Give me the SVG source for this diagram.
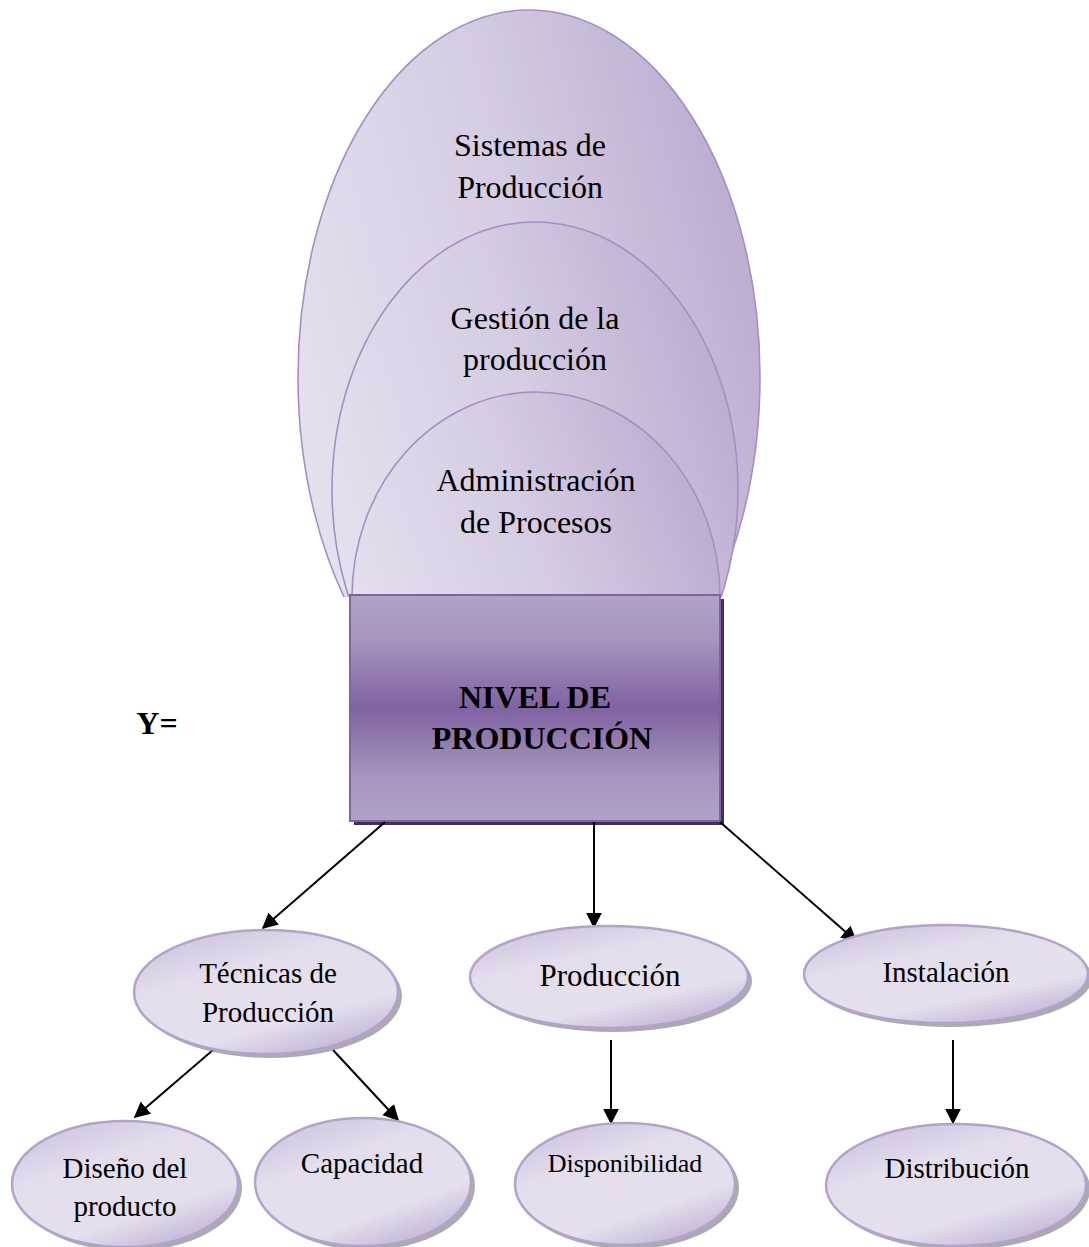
<svg xmlns="http://www.w3.org/2000/svg" width="1089" height="1247" viewBox="0 0 1089 1247">
  <style>
    .t { font-family: "Liberation Serif", "Times New Roman", serif; fill: #000; text-anchor: middle; }
    .b { font-weight: bold; }
    .arch { stroke: #a48fc3; stroke-width: 1.6; fill: url(#archFill); }
    .node { fill: url(#nodeFill); stroke: #b3a2cc; stroke-width: 2.5; }
    .shadow { fill: #8f8f8f; opacity: 0.75; }
    .conn { stroke: #000; stroke-width: 2; fill: none; marker-end: url(#arrow); }
  </style>
  <defs>
    <linearGradient id="archFill" x1="0" y1="0.6" x2="1" y2="0.2">
      <stop offset="0" stop-color="#e6e0ee"/>
      <stop offset="0.5" stop-color="#d6cce3"/>
      <stop offset="1" stop-color="#b9a9cf"/>
    </linearGradient>
    <linearGradient id="nodeFill" x1="0.1" y1="0" x2="0.7" y2="1">
      <stop offset="0" stop-color="#cbbfdc"/>
      <stop offset="0.35" stop-color="#e4ddec"/>
      <stop offset="0.75" stop-color="#e6e0ee"/>
      <stop offset="1" stop-color="#c4b6d7"/>
    </linearGradient>
    <linearGradient id="boxFill" x1="0" y1="0" x2="0" y2="1">
      <stop offset="0" stop-color="#b2a2c8"/>
      <stop offset="0.2" stop-color="#a795bf"/>
      <stop offset="0.5" stop-color="#7f62a1"/>
      <stop offset="0.8" stop-color="#a795bf"/>
      <stop offset="1" stop-color="#b2a2c8"/>
    </linearGradient>
    <clipPath id="aboveBox">
      <rect x="0" y="0" width="1089" height="597"/>
    </clipPath>
    <marker id="arrow" viewBox="0 0 10 10" refX="9" refY="5" markerWidth="8" markerHeight="8" markerUnits="strokeWidth" orient="auto">
      <path d="M0,0 L10,5 L0,10 z" fill="#000"/>
    </marker>
  </defs>

  <!-- nested production layers -->
  <g id="layers" clip-path="url(#aboveBox)">
    <g id="sistemas">
      <ellipse class="arch" cx="529" cy="377" rx="231" ry="367"/>
      <text class="t" x="530" y="156" font-size="32">Sistemas de</text>
      <text class="t" x="530" y="198" font-size="32">Producción</text>
    </g>
    <g id="gestion">
      <ellipse class="arch" cx="535" cy="490" rx="203" ry="268"/>
      <text class="t" x="535" y="329" font-size="32">Gestión de la</text>
      <text class="t" x="535" y="370" font-size="32">producción</text>
    </g>
    <g id="administracion">
      <ellipse class="arch" cx="536" cy="597" rx="184" ry="205"/>
      <text class="t" x="536" y="491" font-size="32">Administración</text>
      <text class="t" x="536" y="533" font-size="32">de Procesos</text>
    </g>
  </g>

  <!-- central box -->
  <g id="nivel">
    <rect x="354" y="599" width="370" height="226" fill="#3f3151"/>
    <rect x="350" y="595" width="370" height="226" fill="url(#boxFill)" stroke="#8064a2" stroke-width="2"/>
    <text class="t b" x="535" y="708" font-size="32">NIVEL DE</text>
    <text class="t b" x="542" y="749" font-size="32">PRODUCCIÓN</text>
  </g>

  <g id="y-label">
    <text class="t b" x="157" y="734" font-size="32">Y=</text>
  </g>

  <!-- connectors -->
  <g id="connectors">
    <line class="conn" x1="385" y1="822" x2="263" y2="928"/>
    <line class="conn" x1="594" y1="822" x2="594" y2="927"/>
    <line class="conn" x1="720" y1="822" x2="856" y2="941"/>
    <line class="conn" x1="213" y1="1050" x2="135" y2="1117"/>
    <line class="conn" x1="333" y1="1050" x2="398" y2="1120"/>
    <line class="conn" x1="611" y1="1040" x2="611" y2="1123"/>
    <line class="conn" x1="953" y1="1040" x2="953" y2="1123"/>
  </g>

  <!-- second level -->
  <g id="tecnicas">
    <ellipse class="shadow" cx="270" cy="996" rx="132" ry="62"/>
    <ellipse class="node" cx="266" cy="992" rx="132" ry="62"/>
    <text class="t" x="268" y="983" font-size="29">Técnicas de</text>
    <text class="t" x="268" y="1022" font-size="29">Producción</text>
  </g>
  <g id="produccion">
    <ellipse class="shadow" cx="613" cy="981" rx="139" ry="51"/>
    <ellipse class="node" cx="609" cy="977" rx="139" ry="51"/>
    <text class="t" x="610" y="986" font-size="31">Producción</text>
  </g>
  <g id="instalacion">
    <ellipse class="shadow" cx="950" cy="978" rx="142" ry="49"/>
    <ellipse class="node" cx="946" cy="974" rx="142" ry="49"/>
    <text class="t" x="946" y="982" font-size="29">Instalación</text>
  </g>

  <!-- third level -->
  <g id="diseno">
    <ellipse class="shadow" cx="129" cy="1188" rx="113" ry="63"/>
    <ellipse class="node" cx="125" cy="1184" rx="113" ry="63"/>
    <text class="t" x="125" y="1178" font-size="29">Diseño del</text>
    <text class="t" x="125" y="1216" font-size="29">producto</text>
  </g>
  <g id="capacidad">
    <ellipse class="shadow" cx="367" cy="1186" rx="108" ry="64"/>
    <ellipse class="node" cx="363" cy="1182" rx="108" ry="64"/>
    <text class="t" x="362" y="1173" font-size="29">Capacidad</text>
  </g>
  <g id="disponibilidad">
    <ellipse class="shadow" cx="629" cy="1188" rx="110" ry="61"/>
    <ellipse class="node" cx="625" cy="1184" rx="110" ry="61"/>
    <text class="t" x="625" y="1172" font-size="26">Disponibilidad</text>
  </g>
  <g id="distribucion">
    <ellipse class="shadow" cx="960" cy="1189" rx="130" ry="61"/>
    <ellipse class="node" cx="956" cy="1185" rx="130" ry="61"/>
    <text class="t" x="957" y="1178" font-size="29">Distribución</text>
  </g>
</svg>
